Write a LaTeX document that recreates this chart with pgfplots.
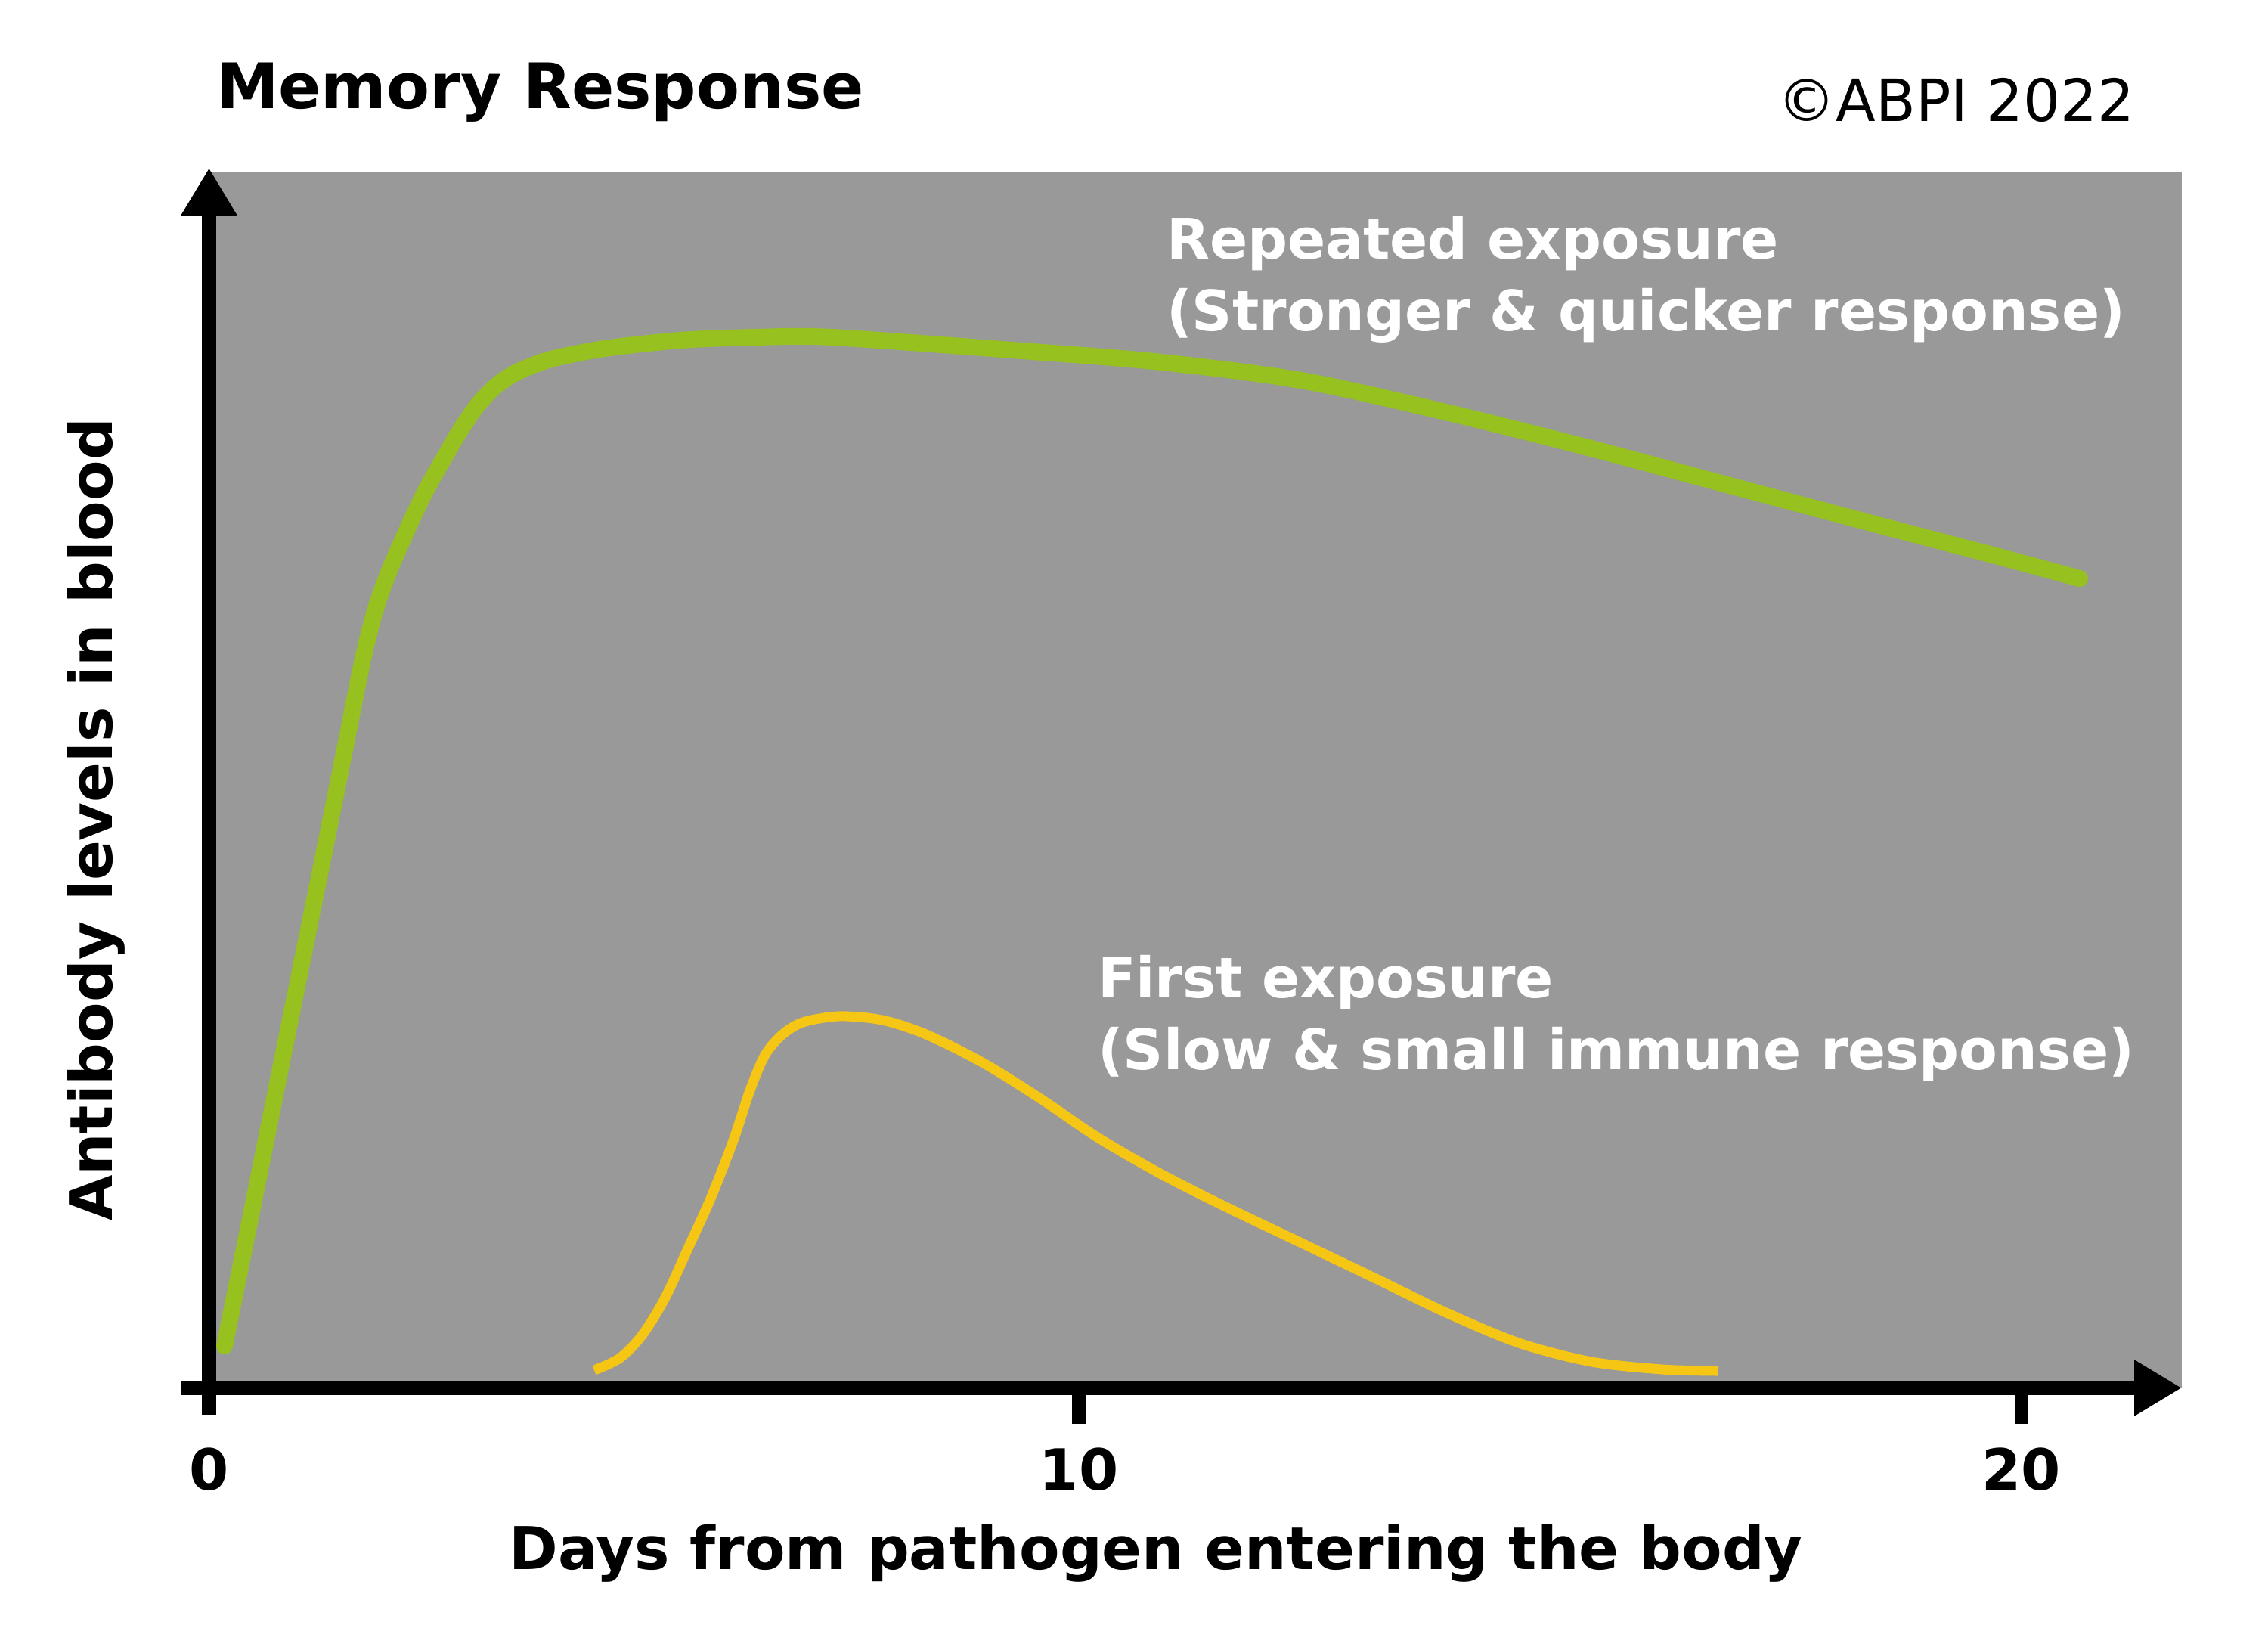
\documentclass[border=0pt]{standalone}
\usepackage{pgfplots}
\pgfplotsset{compat=1.18}
\usepackage{fontspec}
\setmainfont{DejaVu Sans}
\usetikzlibrary{arrows.meta}
\definecolor{bggray}{RGB}{153,153,153}
\definecolor{memgreen}{RGB}{151,193,31}
\definecolor{firstyellow}{RGB}{245,198,20}

\pgfplotstableread{
x y
0.171 3.45
0.530 16.70
0.864 29.08
1.198 41.40
1.490 52.22
1.698 59.94
1.832 63.92
1.965 66.78
2.132 69.70
2.365 73.44
2.574 76.24
2.758 78.60
2.95 80.72
3.133 82.21
3.325 83.27
3.534 84.01
3.809 84.70
4.368 85.51
5.203 86.19
6.037 86.44
6.871 86.44
8.865 85.38
10.467 84.42
12.061 82.88
13.655 80.27
15.257 77.29
16.851 74.11
18.444 70.95
19.72 68.46
20.647 66.59
}\repeated

\pgfplotstableread{
x y
4.251 1.46
4.535 2.46
4.785 4.39
5.035 7.43
5.286 11.48
5.536 15.58
5.787 20.37
5.97 24.48
6.137 27.40
6.329 29.08
6.555 30.08
6.955 30.58
7.431 30.26
7.915 29.08
8.549 26.72
9.191 23.73
9.792 20.68
10.468 17.76
11.152 15.15
12.061 11.91
12.862 9.05
13.655 6.19
14.456 3.70
15.257 2.15
16.05 1.52
16.65 1.40
}\first

\begin{document}
\begin{tikzpicture}
\useasboundingbox (0,0) rectangle (300pt,215.2pt);
\begin{axis}[
  at={(27.65pt,31.65pt)}, anchor=south west,
  scale only axis, width=260.95pt, height=160.75pt,
  xmin=0, xmax=21.773, ymin=0, ymax=100,
  clip=false,
  axis background/.style={fill=bggray},
  axis line style={draw=none},
  major tick length=0pt,
  ytick=\empty,
  xtick={0,9.6,20}, xticklabels={\textbf{0},\textbf{10},\textbf{20}},
  xticklabel style={font=\fontsize{7.5pt}{9pt}\selectfont\bfseries, inner sep=0pt, anchor=north},
  xticklabel shift=7.75pt,
  xlabel={Days from pathogen entering the body},
  xlabel style={font=\fontsize{7.8pt}{9pt}\selectfont\bfseries, at={(axis description cs:0.48,-0.149)}, anchor=base, inner sep=0pt},
  ylabel={Antibody levels in blood},
  ylabel style={font=\fontsize{7.8pt}{9pt}\selectfont\bfseries, at={(axis description cs:-0.0489,0.4675)}, anchor=base, inner sep=0pt},
  every axis title shift=0pt,
  title={Memory Response},
  title style={font=\fontsize{8.3pt}{9pt}\selectfont\bfseries, at={(axis description cs:0.0029,1.0523)}, anchor=base west, inner sep=0pt},
]
\addplot[memgreen, line width=2.2pt, smooth, line cap=round] table[x=x,y=y] {\repeated};
\addplot[firstyellow, line width=1.3pt, smooth] table[x=x,y=y] {\first};

\draw[line width=1.9pt, -{Triangle[width=7pt,length=6.3pt]}] (axis cs:0,-2.21) -- (axis cs:0,100.37);
\draw[line width=1.9pt, -{Triangle[width=7pt,length=6.3pt]}] (axis cs:-0.31,0) -- (axis cs:21.773,0);
\draw[line width=1.8pt] (axis cs:9.6,0) -- (axis cs:9.6,-2.95);
\draw[line width=1.8pt] (axis cs:20,0) -- (axis cs:20,-2.95);

\node[anchor=base west, inner sep=0pt, font=\fontsize{7.7pt}{9pt}\selectfont] at (rel axis cs:0.7945,1.0417) {©ABPI 2022};

\node[anchor=base west, inner sep=0pt, text=white, font=\fontsize{7.4pt}{9pt}\selectfont\bfseries] at (rel axis cs:0.4846,0.9285) {Repeated exposure};
\node[anchor=base west, inner sep=0pt, text=white, font=\fontsize{7.4pt}{9pt}\selectfont\bfseries] at (rel axis cs:0.4846,0.8694) {(Stronger \& quicker response)};
\node[anchor=base west, inner sep=0pt, text=white, font=\fontsize{7.4pt}{9pt}\selectfont\bfseries] at (rel axis cs:0.4497,0.3213) {First exposure};
\node[anchor=base west, inner sep=0pt, text=white, font=\fontsize{7.4pt}{9pt}\selectfont\bfseries] at (rel axis cs:0.4497,0.2622) {(Slow \& small immune response)};
\end{axis}
\end{tikzpicture}
\end{document}
